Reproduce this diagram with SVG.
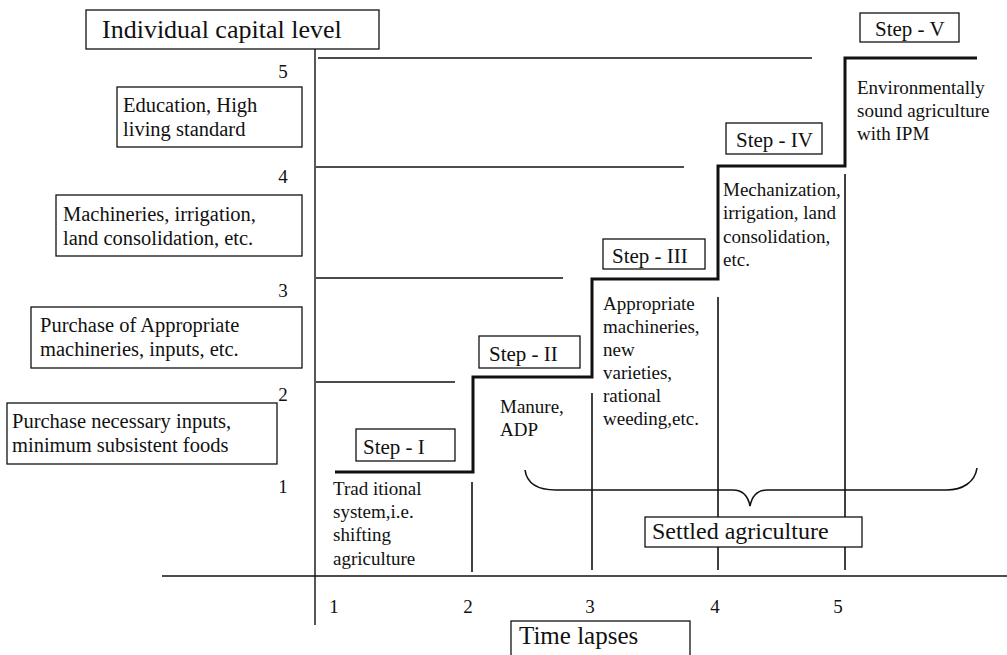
<svg xmlns="http://www.w3.org/2000/svg" width="1007" height="655" viewBox="0 0 1007 655">
  <style>
    text { font-family: "Liberation Serif", "DejaVu Serif", serif; fill: #111; }
    .box { fill: #fff; stroke: #111; stroke-width: 1.3; }
    .axis { stroke: #111; stroke-width: 1.4; fill: none; }
    .level { stroke: #111; stroke-width: 1.6; fill: none; }
    .stair { stroke: #111; stroke-width: 3; fill: none; stroke-linejoin: miter; }
    .divider { stroke: #111; stroke-width: 1.6; fill: none; }
    .title { font-size: 26px; }
    .big { font-size: 24px; }
    .boxtxt { font-size: 20.5px; }
    .step { font-size: 21px; }
    .desc { font-size: 19px; }
    .num { font-size: 19px; text-anchor: middle; }
  </style>

  <rect width="1007" height="655" fill="#fff"/>

  <!-- axes -->
  <g id="axes">
    <line class="axis" x1="315" y1="38" x2="315" y2="625"/>
    <line class="axis" x1="162" y1="576" x2="1007" y2="576"/>
    <text class="num" x="283" y="78">5</text>
    <text class="num" x="283" y="183">4</text>
    <text class="num" x="283" y="297">3</text>
    <text class="num" x="283" y="401">2</text>
    <text class="num" x="283" y="493">1</text>
    <text class="num" x="334" y="613">1</text>
    <text class="num" x="468" y="613">2</text>
    <text class="num" x="590" y="613">3</text>
    <text class="num" x="715" y="613">4</text>
    <text class="num" x="838" y="613">5</text>
  </g>

  <!-- capital level reference lines -->
  <g id="level-lines">
    <line class="level" x1="318" y1="58" x2="812" y2="58"/>
    <line class="level" x1="316" y1="167" x2="684" y2="167"/>
    <line class="level" x1="316" y1="278" x2="563" y2="278"/>
    <line class="level" x1="316" y1="382" x2="455" y2="382"/>
  </g>

  <!-- staircase and column dividers -->
  <g id="connectors">
    <polyline class="stair" points="335,472 473,472 473,377 592,377 592,279 718,279 718,166 845,166 845,58 977,58"/>
    <line class="divider" x1="472" y1="482" x2="472" y2="572"/>
    <line class="divider" x1="592" y1="393" x2="592" y2="570"/>
    <line class="divider" x1="718" y1="297" x2="718" y2="570"/>
    <line class="divider" x1="845" y1="174" x2="845" y2="570"/>
    <path class="divider" d="M525,470 C527,484 538,490 556,490 L733,490 C743,490 748,496 750,506 C752,496 757,490 767,490 L946,490 C963,490 975,482 977,468"/>
  </g>

  <g id="title">
    <rect class="box" x="86" y="10" width="293" height="39"/>
    <text class="title" x="102" y="38">Individual capital level</text>
  </g>

  <g id="level5-box">
    <rect class="box" x="117" y="87" width="185" height="60"/>
    <text class="boxtxt" x="123" y="112">Education, High</text>
    <text class="boxtxt" x="123" y="136">living standard</text>
  </g>

  <g id="level4-box">
    <rect class="box" x="56" y="195" width="246" height="61"/>
    <text class="boxtxt" x="63" y="221">Machineries, irrigation,</text>
    <text class="boxtxt" x="63" y="245">land consolidation, etc.</text>
  </g>

  <g id="level3-box">
    <rect class="box" x="31" y="307" width="271" height="61"/>
    <text class="boxtxt" x="40" y="332">Purchase of Appropriate</text>
    <text class="boxtxt" x="40" y="356">machineries, inputs, etc.</text>
  </g>

  <g id="level2-box">
    <rect class="box" x="7" y="403" width="270" height="61"/>
    <text class="boxtxt" x="12" y="428">Purchase necessary inputs,</text>
    <text class="boxtxt" x="12" y="452">minimum subsistent foods</text>
  </g>

  <g id="step1">
    <rect class="box" x="356" y="429" width="99" height="32"/>
    <text class="step" x="363" y="454">Step - I</text>
    <text class="desc" x="333" y="495">Trad itional</text>
    <text class="desc" x="333" y="518">system,i.e.</text>
    <text class="desc" x="333" y="541">shifting</text>
    <text class="desc" x="333" y="565">agriculture</text>
  </g>

  <g id="step2">
    <rect class="box" x="479" y="336" width="101" height="32"/>
    <text class="step" x="489" y="361">Step - II</text>
    <text class="desc" x="500" y="413">Manure,</text>
    <text class="desc" x="500" y="436">ADP</text>
  </g>

  <g id="step3">
    <rect class="box" x="603" y="239" width="102" height="30"/>
    <text class="step" x="612" y="263">Step - III</text>
    <text class="desc" x="603" y="310">Appropriate</text>
    <text class="desc" x="603" y="333">machineries,</text>
    <text class="desc" x="603" y="356">new</text>
    <text class="desc" x="603" y="379">varieties,</text>
    <text class="desc" x="603" y="402">rational</text>
    <text class="desc" x="603" y="425">weeding,etc.</text>
  </g>

  <g id="step4">
    <rect class="box" x="726" y="123" width="96" height="31"/>
    <text class="step" x="736" y="147">Step - IV</text>
    <text class="desc" x="723" y="196">Mechanization,</text>
    <text class="desc" x="723" y="219">irrigation, land</text>
    <text class="desc" x="723" y="243">consolidation,</text>
    <text class="desc" x="723" y="266">etc.</text>
  </g>

  <g id="step5">
    <rect class="box" x="860" y="13" width="99" height="29"/>
    <text class="step" x="875" y="36">Step - V</text>
    <text class="desc" x="857" y="94">Environmentally</text>
    <text class="desc" x="857" y="117">sound agriculture</text>
    <text class="desc" x="857" y="140">with IPM</text>
  </g>

  <g id="settled">
    <rect class="box" x="645" y="517" width="217" height="30"/>
    <text class="big" x="652" y="539">Settled agriculture</text>
  </g>

  <g id="time-axis-label">
    <rect class="box" x="511" y="621" width="179" height="40"/>
    <text class="big" x="519" y="644" style="font-size:25px">Time lapses</text>
  </g>
</svg>
